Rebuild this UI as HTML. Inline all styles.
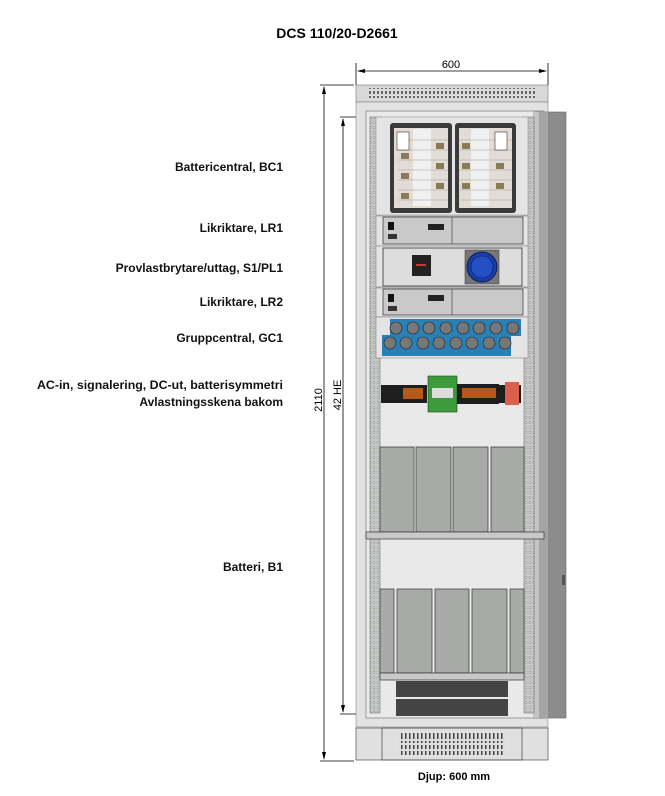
<!DOCTYPE html>
<html><head><meta charset="utf-8"><style>
html,body{margin:0;padding:0;background:#fff}
svg{display:block}
text{font-family:"Liberation Sans",Arial,sans-serif}
</style></head><body>
<svg width="665" height="796" viewBox="0 0 665 796" xmlns="http://www.w3.org/2000/svg">
<defs>
<pattern id="holes" width="4" height="5" patternUnits="userSpaceOnUse"><rect width="4" height="5" fill="#c4c8c4"/><circle cx="2" cy="2.5" r="1" fill="#f4f4f4" stroke="#666" stroke-width="0.4"/></pattern>
<pattern id="vent" width="4" height="5" patternUnits="userSpaceOnUse"><rect width="4" height="5" fill="#ddd"/><rect x="1" y="1" width="2" height="3" fill="#666"/></pattern>
<pattern id="vent2" width="4" height="10" patternUnits="userSpaceOnUse"><rect width="4" height="10" fill="#ddd"/><rect x="1" y="1" width="1.5" height="8" fill="#444"/></pattern>
</defs>
<text x="337" y="38" font-size="14" font-weight="bold" text-anchor="middle">DCS 110/20-D2661</text>

<line x1="356" y1="63" x2="356" y2="85" stroke="#000" stroke-width="0.8"/>
<line x1="548" y1="63" x2="548" y2="85" stroke="#000" stroke-width="0.8"/>
<line x1="358" y1="71" x2="546" y2="71" stroke="#000" stroke-width="0.8"/>
<path d="M357,71 l8,-2 v4z M547,71 l-8,-2 v4z" fill="#000"/>
<text x="451" y="68" font-size="11" text-anchor="middle">600</text>

<line x1="320" y1="85" x2="354" y2="85" stroke="#000" stroke-width="0.8"/>
<line x1="320" y1="761" x2="354" y2="761" stroke="#000" stroke-width="0.8"/>
<line x1="324" y1="87" x2="324" y2="759" stroke="#000" stroke-width="0.8"/>
<path d="M324,86 l-2,8 h4z M324,760 l-2,-8 h4z" fill="#000"/>
<line x1="340" y1="117" x2="366" y2="117" stroke="#000" stroke-width="0.8"/>
<line x1="340" y1="714" x2="366" y2="714" stroke="#000" stroke-width="0.8"/>
<line x1="343" y1="119" x2="343" y2="712" stroke="#000" stroke-width="0.8"/>
<path d="M343,118 l-2,8 h4z M343,713 l-2,-8 h4z" fill="#000"/>
<text transform="translate(322,400) rotate(-90)" font-size="11" text-anchor="middle">2110</text>
<text transform="translate(341,395) rotate(-90)" font-size="11" text-anchor="middle">42 HE</text>

<rect x="356" y="85" width="192" height="17" fill="#d8d8d8" stroke="#777" stroke-width="0.6"/>
<rect x="368" y="88" width="168" height="10" fill="url(#vent)"/>
<rect x="356" y="102" width="192" height="625" fill="#e2e2e2" stroke="#888" stroke-width="0.6"/>
<rect x="366" y="111" width="178" height="607" fill="#e9e9e9" stroke="#888" stroke-width="0.8"/>
<rect x="534" y="112" width="32" height="606" fill="#8c8c8c" stroke="#666" stroke-width="0.6"/>
<rect x="539" y="112" width="9" height="606" fill="#a5a5a5"/>
<rect x="534" y="112" width="5" height="606" fill="#c4c4c4"/>
<rect x="562" y="575" width="3" height="10" fill="#555"/>
<rect x="356" y="728" width="192" height="32" fill="#e0e0e0" stroke="#666" stroke-width="0.8"/>
<rect x="382" y="728" width="140" height="32" fill="none" stroke="#555" stroke-width="0.8"/>
<rect x="399" y="733" width="106" height="10" fill="url(#vent2)"/>
<rect x="399" y="745" width="106" height="10" fill="url(#vent2)"/>

<rect x="370" y="117" width="10" height="596" fill="url(#holes)" stroke="#777" stroke-width="0.6"/>
<rect x="524" y="117" width="10" height="596" fill="url(#holes)" stroke="#777" stroke-width="0.6"/>

<!-- BC1 -->
<rect x="376" y="117" width="152" height="98" fill="#e4e4e4" stroke="#888" stroke-width="0.5"/>
<rect x="390" y="123" width="62" height="90" rx="3" fill="#3a3a3a"/>
<rect x="394" y="128" width="54" height="80" fill="#e2dcd6"/>
<rect x="455" y="123" width="61" height="90" rx="3" fill="#3a3a3a"/>
<rect x="459" y="128" width="53" height="80" fill="#e2dcd6"/>
<rect x="413" y="129" width="18" height="77" fill="#f0f0f0"/>
<rect x="471" y="129" width="18" height="77" fill="#f0f0f0"/>
<g fill="none" stroke="#a99" stroke-width="0.6">
<path d="M398,140h50 M398,150h50 M398,160h50 M398,170h50 M398,180h50 M398,190h50 M398,200h50"/>
<path d="M459,140h53 M459,150h53 M459,160h53 M459,170h53 M459,180h53 M459,190h53 M459,200h53"/>
</g>
<g fill="#8a7a55"><rect x="401" y="153" width="8" height="6"/><rect x="401" y="173" width="8" height="6"/><rect x="401" y="193" width="8" height="6"/><rect x="436" y="143" width="8" height="6"/><rect x="436" y="163" width="8" height="6"/><rect x="436" y="183" width="8" height="6"/><rect x="462" y="143" width="8" height="6"/><rect x="462" y="163" width="8" height="6"/><rect x="462" y="183" width="8" height="6"/><rect x="496" y="163" width="8" height="6"/><rect x="496" y="183" width="8" height="6"/></g>
<rect x="397" y="132" width="12" height="18" fill="#fff" stroke="#333" stroke-width="0.6"/>
<rect x="495" y="132" width="12" height="18" fill="#fff" stroke="#333" stroke-width="0.6"/>

<rect x="376" y="216" width="152" height="30" fill="#e4e4e4" stroke="#777" stroke-width="0.5"/>
<rect x="383" y="217" width="140" height="27" fill="#c9c9c9" stroke="#333" stroke-width="0.7"/>
<line x1="452" y1="217" x2="452" y2="244" stroke="#333" stroke-width="0.6"/>
<rect x="388" y="222" width="6" height="8" fill="#111"/>
<rect x="388" y="234" width="9" height="5" fill="#333"/>
<rect x="428" y="224" width="16" height="6" fill="#222"/>
<rect x="376" y="246" width="152" height="41" fill="#e4e4e4" stroke="#777" stroke-width="0.5"/>
<rect x="383" y="248" width="139" height="38" fill="#ddd" stroke="#333" stroke-width="0.8"/>
<rect x="412" y="255" width="19" height="21" fill="#222"/>
<rect x="416" y="264" width="10" height="2" fill="#c33"/>
<rect x="465" y="250" width="34" height="34" fill="#777" stroke="#333" stroke-width="0.5"/>
<circle cx="482" cy="267" r="15" fill="#1b3fa8" stroke="#0a1d5a"/>
<circle cx="482" cy="267" r="11" fill="#2550c4" stroke="#0a1d5a" stroke-width="0.6"/>
<rect x="376" y="288" width="152" height="29" fill="#e4e4e4" stroke="#777" stroke-width="0.5"/>
<rect x="383" y="289" width="140" height="26" fill="#c9c9c9" stroke="#333" stroke-width="0.7"/>
<line x1="452" y1="289" x2="452" y2="315" stroke="#333" stroke-width="0.6"/>
<rect x="388" y="294" width="6" height="8" fill="#111"/>
<rect x="388" y="306" width="9" height="5" fill="#333"/>
<rect x="428" y="295" width="16" height="6" fill="#222"/>
<rect x="376" y="317" width="152" height="41" fill="#e4e4e4" stroke="#777" stroke-width="0.5"/>
<rect x="390" y="319" width="131" height="17" fill="#2a7fb6"/>
<rect x="382" y="335" width="129" height="21" fill="#2a7fb6"/>
<g fill="#777" stroke="#222" stroke-width="0.6">
<circle cx="396" cy="328" r="6"/><circle cx="413" cy="328" r="6"/><circle cx="429" cy="328" r="6"/><circle cx="446" cy="328" r="6"/><circle cx="463" cy="328" r="6"/><circle cx="479" cy="328" r="6"/><circle cx="496" cy="328" r="6"/><circle cx="513" cy="328" r="6"/>
<circle cx="390" cy="343" r="6"/><circle cx="406" cy="343" r="6"/><circle cx="423" cy="343" r="6"/><circle cx="439" cy="343" r="6"/><circle cx="456" cy="343" r="6"/><circle cx="472" cy="343" r="6"/><circle cx="489" cy="343" r="6"/><circle cx="505" cy="343" r="6"/>
</g>

<rect x="381" y="385" width="46" height="18" fill="#1e1e1e"/>
<rect x="403" y="388" width="20" height="11" fill="#b35a1a"/>
<rect x="428" y="376" width="29" height="36" fill="#3d9a3d" stroke="#1a4a1a" stroke-width="0.6"/>
<rect x="432" y="388" width="21" height="10" fill="#ddd"/>
<rect x="457" y="384" width="42" height="20" fill="#1e1e1e"/>
<rect x="462" y="388" width="34" height="10" fill="#b35a1a"/>
<rect x="499" y="385" width="22" height="18" fill="#1e1e1e"/>
<rect x="505" y="382" width="14" height="23" fill="#d9604a"/>

<g fill="#a8aaa8" stroke="#333" stroke-width="0.7">
<rect x="380" y="447" width="34" height="85"/><rect x="416" y="447" width="35" height="85"/><rect x="453" y="447" width="35" height="85"/><rect x="491" y="447" width="33" height="85"/>
</g>
<rect x="366" y="532" width="178" height="7" fill="#c8c8c8" stroke="#333" stroke-width="0.7"/>
<g fill="#a8aaa8" stroke="#333" stroke-width="0.7">
<rect x="380" y="589" width="14" height="84"/><rect x="397" y="589" width="35" height="84"/><rect x="435" y="589" width="34" height="84"/><rect x="472" y="589" width="35" height="84"/><rect x="510" y="589" width="14" height="84"/>
</g>
<rect x="380" y="673" width="144" height="7" fill="#c8c8c8" stroke="#333" stroke-width="0.7"/>
<rect x="396" y="681" width="112" height="16" fill="#444"/>
<rect x="396" y="699" width="112" height="17" fill="#444"/>

<g font-size="12" font-weight="bold" text-anchor="end" fill="#111">
<text x="283" y="171">Battericentral, BC1</text>
<text x="283" y="232">Likriktare, LR1</text>
<text x="283" y="272">Provlastbrytare/uttag, S1/PL1</text>
<text x="283" y="306">Likriktare, LR2</text>
<text x="283" y="342">Gruppcentral, GC1</text>
<text x="283" y="389" textLength="246" lengthAdjust="spacingAndGlyphs">AC-in, signalering, DC-ut, batterisymmetri</text>
<text x="283" y="406">Avlastningsskena bakom</text>
<text x="283" y="571">Batteri, B1</text>
</g>
<text x="454" y="780" font-size="11" font-weight="bold" text-anchor="middle">Djup: 600 mm</text>
</svg>
</body></html>
